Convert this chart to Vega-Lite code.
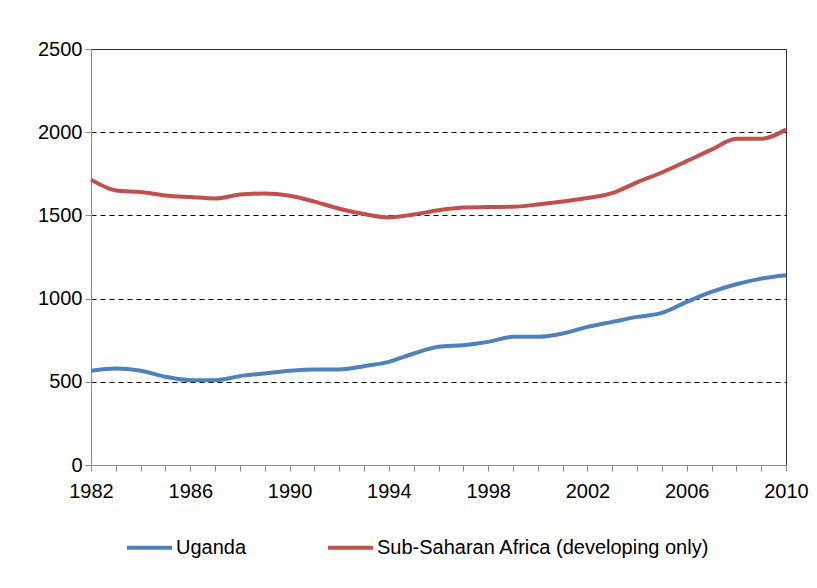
{
  "$schema": "https://vega.github.io/schema/vega-lite/v6.json",
  "width": 695,
  "height": 416,
  "autosize": {"type": "none"},
  "padding": {"left": 91, "top": 49, "right": 31, "bottom": 123},
  "background": "white",
  "config": {
    "view": {"stroke": "#333333", "strokeWidth": 1},
    "font": "Liberation Sans",
    "axis": {"labelFont": "Liberation Sans", "labelFontSize": 20, "labelColor": "#000000", "domainColor": "#8c8c8c", "tickColor": "#8c8c8c", "tickSize": 6, "title": null}
  },
  "data": {
    "values": [
      {"year": 1982, "series": "Uganda", "value": 566},
      {"year": 1983, "series": "Uganda", "value": 580},
      {"year": 1984, "series": "Uganda", "value": 566},
      {"year": 1985, "series": "Uganda", "value": 530},
      {"year": 1986, "series": "Uganda", "value": 510},
      {"year": 1987, "series": "Uganda", "value": 510},
      {"year": 1988, "series": "Uganda", "value": 534},
      {"year": 1989, "series": "Uganda", "value": 550},
      {"year": 1990, "series": "Uganda", "value": 566},
      {"year": 1991, "series": "Uganda", "value": 574},
      {"year": 1992, "series": "Uganda", "value": 574},
      {"year": 1993, "series": "Uganda", "value": 594},
      {"year": 1994, "series": "Uganda", "value": 620},
      {"year": 1995, "series": "Uganda", "value": 670},
      {"year": 1996, "series": "Uganda", "value": 710},
      {"year": 1997, "series": "Uganda", "value": 720},
      {"year": 1998, "series": "Uganda", "value": 740},
      {"year": 1999, "series": "Uganda", "value": 770},
      {"year": 2000, "series": "Uganda", "value": 770},
      {"year": 2001, "series": "Uganda", "value": 790},
      {"year": 2002, "series": "Uganda", "value": 830},
      {"year": 2003, "series": "Uganda", "value": 860},
      {"year": 2004, "series": "Uganda", "value": 890},
      {"year": 2005, "series": "Uganda", "value": 914},
      {"year": 2006, "series": "Uganda", "value": 980},
      {"year": 2007, "series": "Uganda", "value": 1040},
      {"year": 2008, "series": "Uganda", "value": 1086},
      {"year": 2009, "series": "Uganda", "value": 1120},
      {"year": 2010, "series": "Uganda", "value": 1140},
      {"year": 1982, "series": "Sub-Saharan Africa (developing only)", "value": 1715},
      {"year": 1983, "series": "Sub-Saharan Africa (developing only)", "value": 1650},
      {"year": 1984, "series": "Sub-Saharan Africa (developing only)", "value": 1640},
      {"year": 1985, "series": "Sub-Saharan Africa (developing only)", "value": 1620},
      {"year": 1986, "series": "Sub-Saharan Africa (developing only)", "value": 1610},
      {"year": 1987, "series": "Sub-Saharan Africa (developing only)", "value": 1602},
      {"year": 1988, "series": "Sub-Saharan Africa (developing only)", "value": 1625},
      {"year": 1989, "series": "Sub-Saharan Africa (developing only)", "value": 1632},
      {"year": 1990, "series": "Sub-Saharan Africa (developing only)", "value": 1618},
      {"year": 1991, "series": "Sub-Saharan Africa (developing only)", "value": 1583},
      {"year": 1992, "series": "Sub-Saharan Africa (developing only)", "value": 1540},
      {"year": 1993, "series": "Sub-Saharan Africa (developing only)", "value": 1508},
      {"year": 1994, "series": "Sub-Saharan Africa (developing only)", "value": 1488},
      {"year": 1995, "series": "Sub-Saharan Africa (developing only)", "value": 1506},
      {"year": 1996, "series": "Sub-Saharan Africa (developing only)", "value": 1531},
      {"year": 1997, "series": "Sub-Saharan Africa (developing only)", "value": 1548},
      {"year": 1998, "series": "Sub-Saharan Africa (developing only)", "value": 1550},
      {"year": 1999, "series": "Sub-Saharan Africa (developing only)", "value": 1552},
      {"year": 2000, "series": "Sub-Saharan Africa (developing only)", "value": 1566},
      {"year": 2001, "series": "Sub-Saharan Africa (developing only)", "value": 1584},
      {"year": 2002, "series": "Sub-Saharan Africa (developing only)", "value": 1604},
      {"year": 2003, "series": "Sub-Saharan Africa (developing only)", "value": 1634},
      {"year": 2004, "series": "Sub-Saharan Africa (developing only)", "value": 1699},
      {"year": 2005, "series": "Sub-Saharan Africa (developing only)", "value": 1758},
      {"year": 2006, "series": "Sub-Saharan Africa (developing only)", "value": 1826},
      {"year": 2007, "series": "Sub-Saharan Africa (developing only)", "value": 1895},
      {"year": 2008, "series": "Sub-Saharan Africa (developing only)", "value": 1960},
      {"year": 2009, "series": "Sub-Saharan Africa (developing only)", "value": 1960},
      {"year": 2010, "series": "Sub-Saharan Africa (developing only)", "value": 2016}
    ]
  },
  "mark": {"type": "line", "strokeWidth": 4, "interpolate": "monotone", "clip": false},
  "encoding": {
    "x": {
      "field": "year",
      "type": "quantitative",
      "scale": {"domain": [1982, 2010], "nice": false, "zero": false},
      "axis": {
        "values": [1982,1983,1984,1985,1986,1987,1988,1989,1990,1991,1992,1993,1994,1995,1996,1997,1998,1999,2000,2001,2002,2003,2004,2005,2006,2007,2008,2009,2010],
        "labelExpr": "(datum.value - 1982) % 4 == 0 ? format(datum.value, 'd') : ''",
        "labelOverlap": false,
        "labelPadding": 10,
        "labelFlush": false,
        "grid": false
      }
    },
    "y": {
      "field": "value",
      "type": "quantitative",
      "scale": {"domain": [0, 2500], "nice": false},
      "axis": {
        "values": [0, 500, 1000, 1500, 2000, 2500],
        "format": "d",
        "labelPadding": 3,
        "grid": true,
        "gridColor": "#000000",
        "gridDash": [5, 4],
        "gridWidth": 1,
        "gridOpacity": {"condition": {"test": "datum.value == 2500 || datum.value == 0", "value": 0}, "value": 1},
        "labelFlush": false
      }
    },
    "color": {
      "field": "series",
      "type": "nominal",
      "scale": {"domain": ["Uganda", "Sub-Saharan Africa (developing only)"], "range": ["#4F81BD", "#C0504D"]},
      "legend": {
        "title": null,
        "orient": "none",
        "direction": "horizontal",
        "legendX": 34,
        "legendY": 474,
        "symbolType": "stroke",
        "symbolSize": 2025,
        "symbolStrokeWidth": 4,
        "labelFont": "Liberation Sans",
        "labelFontSize": 20,
        "labelColor": "#000000",
        "labelOffset": 2,
        "columnPadding": 73,
        "labelLimit": 500
      }
    }
  }
}
